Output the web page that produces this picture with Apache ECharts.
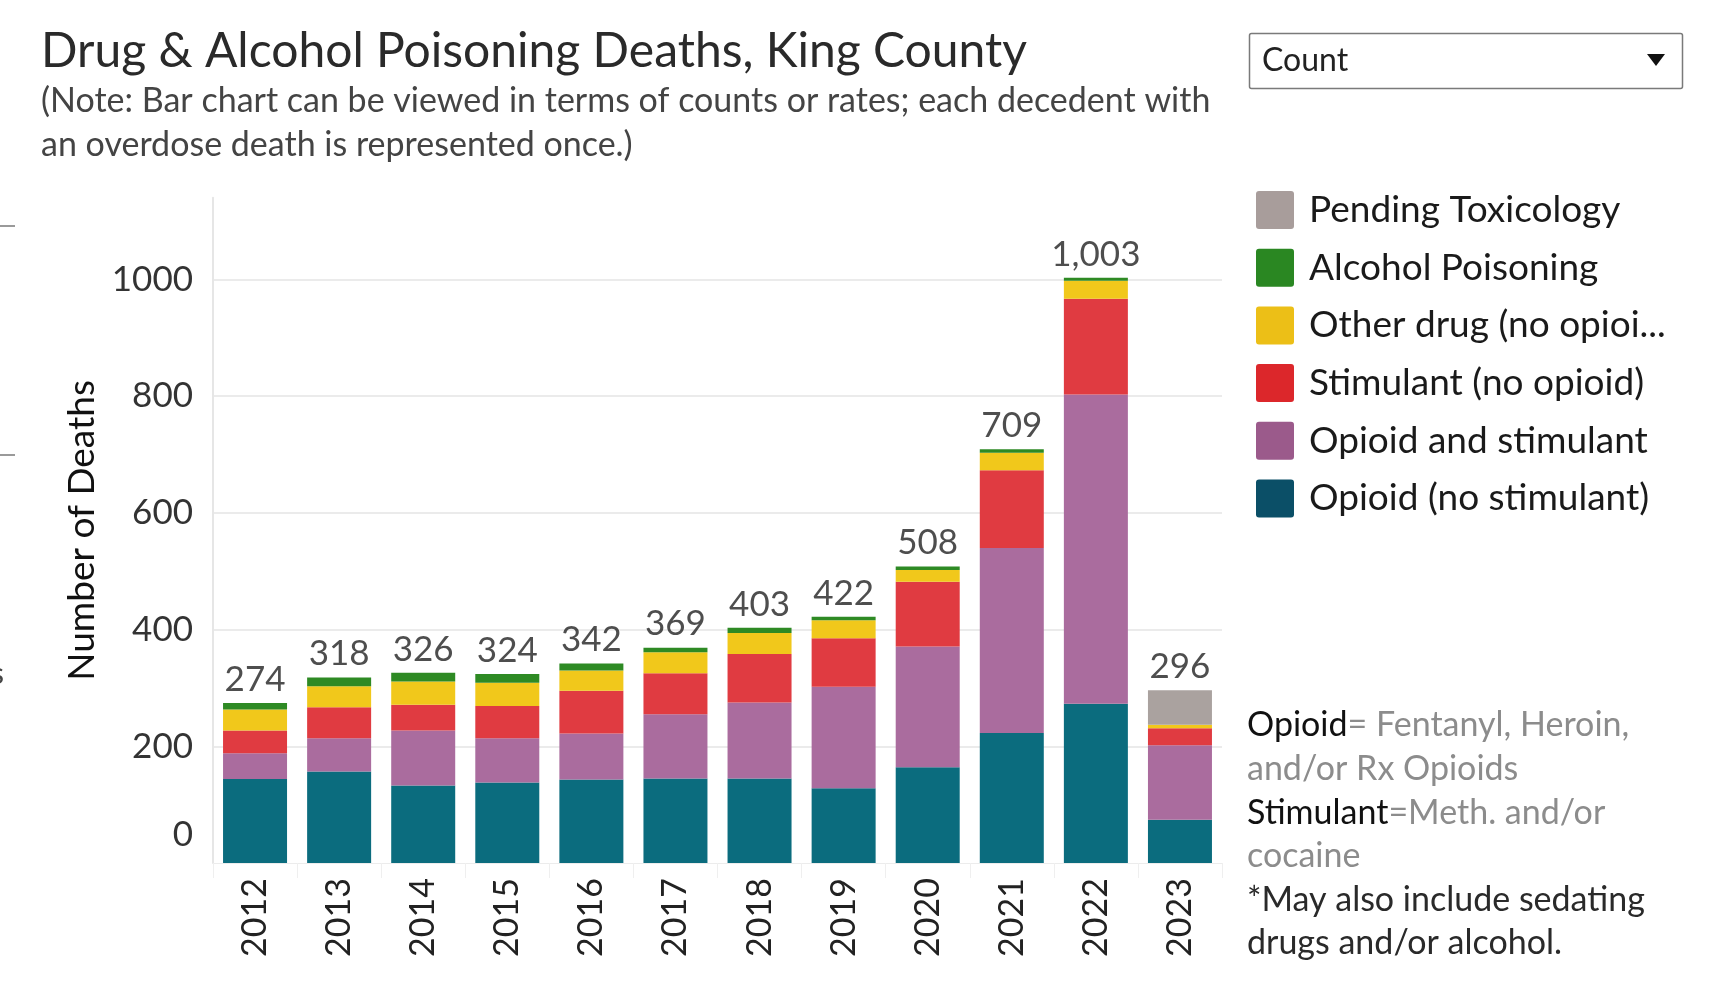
<!DOCTYPE html>
<html>
<head>
<meta charset="utf-8">
<script src="https://cdn.jsdelivr.net/npm/echarts@6/dist/echarts.min.js"></script>
<style>
html,body{margin:0;padding:0;background:#fff;}
#chart{width:1728px;height:1004px;}
</style>
</head>
<body>
<div id="chart"></div>
<script>
// ---- data ----
const years = ['2012','2013','2014','2015','2016','2017','2018','2019','2020','2021','2022','2023'];
const opioidNoStim   = [144, 157, 133, 138, 143, 145, 145, 128, 164, 223, 273, 74];
const opioidAndStim  = [ 44,  57,  94,  76,  79, 110, 130, 174, 207, 317, 530, 128];
const stimNoOpioid   = [ 39,  53,  44,  55,  73,  70,  83,  83, 111, 133, 164, 29];
const otherDrug      = [ 36,  36,  40,  40,  35,  36,  36,  31,  20,  30,  31,  6];
const alcohol        = [ 11,  15,  15,  15,  12,   8,   9,   6,   6,   6,   5,  0];
const pendingTox     = [  0,   0,   0,   0,   0,   0,   0,   0,   0,   0,   0, 59];
const yTicks = [0, 200, 400, 600, 800, 1000];

const seriesDefs = [
  {name:'Opioid (no stimulant)', data: opioidNoStim, color:'#0b6c7e', legend:'#0b4f67'},
  {name:'Opioid and stimulant', data: opioidAndStim, color:'#aa6c9e', legend:'#9b5a8b'},
  {name:'Stimulant (no opioid)', data: stimNoOpioid, color:'#e03b41', legend:'#dc272b'},
  {name:'Other drug (no opioid or stimulant)', data: otherDrug, color:'#f1c81b', legend:'#ecbf17'},
  {name:'Alcohol Poisoning', data: alcohol, color:'#2e8a24', legend:'#2a8722'},
  {name:'Pending Toxicology', data: pendingTox, color:'#aaa29f', legend:'#a89d9b'}
];
const totals = years.map((_, i) => seriesDefs.reduce((s, d) => s + d.data[i], 0));

const FONT = 'Lato, "Noto Sans", sans-serif';
const chart = echarts.init(document.getElementById('chart'));

const series = seriesDefs.map(d => ({
  name: d.name, type: 'bar', stack: 'total', barWidth: 64,
  data: d.data, itemStyle: {color: d.color}, emphasis: {disabled: true}
}));
series.push({
  name: 'Total', type: 'scatter', data: totals, symbolSize: 0, silent: true,
  label: {show: true, position: 'top', distance: 6, color: '#222', fontFamily: FONT, fontSize: 35,
    formatter: p => p.value.toLocaleString('en-US')}
});

const ICON = 'path://M3,0 H35 Q38,0 38,3 V35 Q38,38 35,38 H3 Q0,38 0,35 V3 Q0,0 3,0 Z';

chart.setOption({
  animation: false,
  backgroundColor: '#fff',
  textStyle: {fontFamily: FONT},
  grid: {left: 213, right: 506, top: 197.8, bottom: 141},
  xAxis: {
    type: 'category', data: years,
    axisLine: {show: true, lineStyle: {color: '#ececec', width: 1}},
    axisTick: {show: true, length: 15, lineStyle: {color: '#efefef'}},
    axisLabel: {rotate: 90, margin: 15, color: '#222', fontSize: 34, fontFamily: FONT}
  },
  yAxis: {
    type: 'value', min: 0, max: 1140, interval: 200,
    name: 'Number of Deaths', nameLocation: 'middle', nameRotate: 90, nameGap: 110,
    nameTextStyle: {color: '#111', fontSize: 37, fontFamily: FONT},
    axisLine: {show: true, lineStyle: {color: '#e6e6e6', width: 2}},
    axisTick: {show: false},
    splitLine: {show: true, showMinLine: false, showMaxLine: false, lineStyle: {color: '#ebebeb', width: 2}},
    axisLabel: {
      margin: 20, color: '#333', fontSize: 35, fontFamily: FONT, showMaxLabel: false,
      formatter: v => yTicks.indexOf(v) < 0 ? '' : (v === 0 ? '{z|0}' : String(v)),
      rich: {z: {fontSize: 35, fontFamily: FONT, color: '#333', padding: [0, 0, 56, 0]}}
    }
  },
  legend: {
    orient: 'vertical', left: 1251, top: 186, selectedMode: false,
    itemWidth: 38, itemHeight: 38, itemGap: 19.7, icon: ICON,
    textStyle: {fontSize: 37, fontFamily: FONT, color: '#1a1a1a', lineHeight: 38, padding: [0, 0, 0, 10]},
    formatter: n => n.length > 22 ? n.slice(0, 20) + '...' : n,
    data: seriesDefs.slice().reverse().map(d => ({name: d.name, itemStyle: {color: d.legend}}))
  },
  series: series,
  graphic: [
    {type: 'text', style: {x: 41, y: 52, text: 'Drug & Alcohol Poisoning Deaths, King County',
      font: '48px ' + FONT, fill: '#2a2a2a', textVerticalAlign: 'middle'}},
    {type: 'text', style: {x: 41, y: 101, text: '(Note: Bar chart can be viewed in terms of counts or rates; each decedent with',
      font: '34px ' + FONT, fill: '#444', textVerticalAlign: 'middle'}},
    {type: 'text', style: {x: 41, y: 145, text: 'an overdose death is represented once.)',
      font: '34px ' + FONT, fill: '#444', textVerticalAlign: 'middle'}},
    // dropdown
    {type: 'rect', shape: {x: 1249.5, y: 33.5, width: 433, height: 55, r: 2},
      style: {fill: '#fff', stroke: '#7a7a7a', lineWidth: 1.5}},
    {type: 'text', style: {x: 1262, y: 61, text: 'Count', font: '32px ' + FONT, fill: '#222', textVerticalAlign: 'middle'}},
    {type: 'polygon', shape: {points: [[1647, 54], [1665, 54], [1656, 66]]}, style: {fill: '#111'}},
    // notes
    {type: 'text', style: {x: 1247, y: 725, textVerticalAlign: 'middle',
      text: '{b|Opioid}{g|= Fentanyl, Heroin,}',
      rich: {b: {font: '34px ' + FONT, fill: '#111'}, g: {font: '34px ' + FONT, fill: '#8c8c8c'}}}},
    {type: 'text', style: {x: 1247, y: 769, textVerticalAlign: 'middle', text: 'and/or Rx Opioids',
      font: '34px ' + FONT, fill: '#8c8c8c'}},
    {type: 'text', style: {x: 1247, y: 813, textVerticalAlign: 'middle',
      text: '{b|Stimulant}{g|=Meth. and/or}',
      rich: {b: {font: '34px ' + FONT, fill: '#111'}, g: {font: '34px ' + FONT, fill: '#8c8c8c'}}}},
    {type: 'text', style: {x: 1247, y: 856, textVerticalAlign: 'middle', text: 'cocaine',
      font: '34px ' + FONT, fill: '#8c8c8c'}},
    {type: 'text', style: {x: 1247, y: 900, textVerticalAlign: 'middle', text: '*May also include sedating',
      font: '34px ' + FONT, fill: '#2a2a2a'}},
    {type: 'text', style: {x: 1247, y: 943, textVerticalAlign: 'middle', text: 'drugs and/or alcohol.',
      font: '34px ' + FONT, fill: '#2a2a2a'}},
    // left-edge remnants of neighbouring panel
    {type: 'line', shape: {x1: 0, y1: 226, x2: 15, y2: 226}, style: {stroke: '#9a9a9a', lineWidth: 2}},
    {type: 'line', shape: {x1: 0, y1: 455, x2: 15, y2: 455}, style: {stroke: '#9a9a9a', lineWidth: 2}},
    {type: 'text', style: {x: -9, y: 674, text: 's', font: '30px ' + FONT, fill: '#444', textVerticalAlign: 'middle'}}
  ]
});
</script>
</body>
</html>
